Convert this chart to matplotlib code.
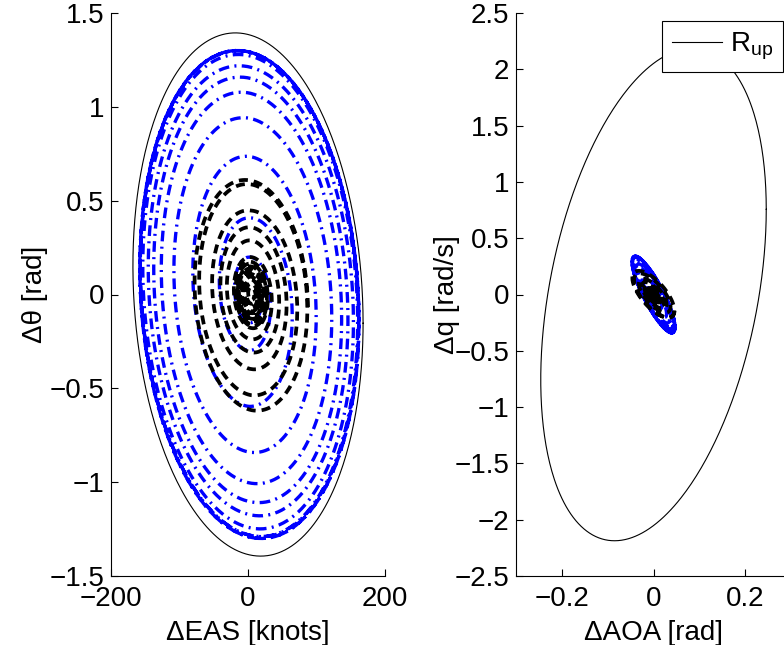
import matplotlib
matplotlib.use("Agg")
import matplotlib.pyplot as plt
import numpy as np

plt.rcParams['font.family'] = ['Liberation Sans', 'DejaVu Sans']
plt.rcParams['mathtext.fontset'] = 'custom'
plt.rcParams['mathtext.rm'] = 'Liberation Sans'

# R_up boundary: half-widths and phase tilt
rup_eas, rup_theta, rup_tilt = 168.0, 1.394, -0.11
rup_aoa, rup_q, rup_tilt_r = 0.246, 2.187, 0.353

# peak |dtheta| [rad] of each half swing (top, bottom, top, ...)
blue_peaks = [1.30, 1.30, 1.30, 1.30, 1.30, 1.29, 1.30, 1.29, 1.28, 1.25, 1.22,
              1.18, 1.16, 1.11, 1.08, 1.01, 0.945, 0.845, 0.74, 0.60, 0.41,
              0.30, 0.20, 0.15]
black_peaks = [0.61, 0.62, 0.59, 0.54, 0.45, 0.40, 0.36, 0.31, 0.29, 0.24,
               0.20, 0.18, 0.175, 0.17, 0.165, 0.16, 0.15, 0.145, 0.14, 0.13,
               0.125, 0.12, 0.11, 0.10, 0.095, 0.09, 0.08, 0.07, 0.06, 0.05,
               0.04, 0.03]

# knots of EAS per rad of theta, and centre offset, per trajectory
blue_ratio, blue_off = 123.0, 2.0
black_ratio, black_off = 135.0, 5.0

# right panel: AOA and q per rad of theta-peak, and phase lag between them
blue_aoa_k, blue_q_k, blue_lag = 0.036, 0.262, np.pi - 0.55
black_aoa_k, black_q_k, black_lag = 0.075, 0.34, np.pi - 0.8


def spiral(peaks, n=80):
    # one half swing per listed peak, amplitude eased between peaks
    t = np.linspace(0, np.pi * len(peaks), n * len(peaks))
    amp = np.interp(t, np.pi * (np.arange(len(peaks)) + 0.5), peaks)
    return t, amp


blue_style = dict(color='blue', lw=2.4, dashes=(3.2, 1.6, 0.6, 1.6))
black_style = dict(color='black', lw=2.7, dashes=(2.4, 1.6))

fig = plt.figure(figsize=(7.84, 6.45), dpi=100)
ax1 = fig.add_axes([111 / 784, 1 - 576 / 645, 274 / 784, 563 / 645])
ax2 = fig.add_axes([516 / 784, 1 - 576 / 645, 275 / 784, 563 / 645])

# ---- left: dEAS vs dtheta
t, a = spiral(blue_peaks)
ax1.plot(blue_off + blue_ratio * a * np.cos(t), a * np.sin(t + rup_tilt), **blue_style)
t, a = spiral(black_peaks)
ax1.plot(black_off + black_ratio * a * np.cos(t), a * np.sin(t + rup_tilt), **black_style)
s = np.linspace(0, 2 * np.pi, 400)
ax1.plot(rup_eas * np.cos(s), rup_theta * np.sin(s + rup_tilt), color='black', lw=0.8)

# ---- right: dAOA vs dq
t, a = spiral(blue_peaks)
ax2.plot(blue_aoa_k * a * np.cos(t), blue_q_k * a * np.cos(t + blue_lag), **blue_style)
t, a = spiral(black_peaks)
ax2.plot(black_aoa_k * a * np.cos(t), black_q_k * a * np.cos(t + black_lag), **black_style)
ax2.plot(rup_aoa * np.cos(s), rup_q * np.sin(s + rup_tilt_r), color='black', lw=0.8,
         label='R$_{\\rm up}$')

ax1.set_xlim(-200, 200)
ax1.set_ylim(-1.5, 1.5)
ax1.set_xticks([-200, 0, 200])
ax1.set_xticklabels(['−200', '0', '200'])
ax1.set_yticks(np.arange(-1.5, 1.51, 0.5))
ax1.set_yticklabels(['−1.5', '−1', '−0.5', '0', '0.5', '1', '1.5'])
ax1.set_xlabel('ΔEAS [knots]', fontsize=20, labelpad=6)
ax1.set_ylabel('Δθ [rad]', fontsize=20, labelpad=1)

ax2.set_xlim(-0.3, 0.3)
ax2.set_ylim(-2.5, 2.5)
ax2.set_xticks([-0.2, 0, 0.2])
ax2.set_xticklabels(['−0.2', '0', '0.2'])
ax2.set_yticks(np.arange(-2.5, 2.51, 0.5))
ax2.set_yticklabels(['−2.5', '−2', '−1.5', '−1', '−0.5', '0', '0.5', '1', '1.5', '2', '2.5'])
ax2.set_xlabel('ΔAOA [rad]', fontsize=20, labelpad=6)
ax2.set_ylabel('Δq [rad/s]', fontsize=20, labelpad=-4)

for ax in (ax1, ax2):
    for side in ('top', 'right'):
        ax.spines[side].set_visible(False)
    for side in ('left', 'bottom'):
        ax.spines[side].set_linewidth(0.8)
    ax.tick_params(direction='in', length=5, width=0.8, labelsize=20, pad=5)
    ax.tick_params(axis='x', pad=7)

leg = ax2.legend(loc='upper right', bbox_to_anchor=(783 / 784, 1 - 21 / 645),
                 bbox_transform=fig.transFigure, fontsize=20, handlelength=1.8,
                 handletextpad=0.3, borderpad=0.35, borderaxespad=0,
                 fancybox=False, framealpha=1)
leg.get_frame().set_edgecolor('black')
leg.get_frame().set_linewidth(0.8)

fig.savefig('out.png', dpi=100)
